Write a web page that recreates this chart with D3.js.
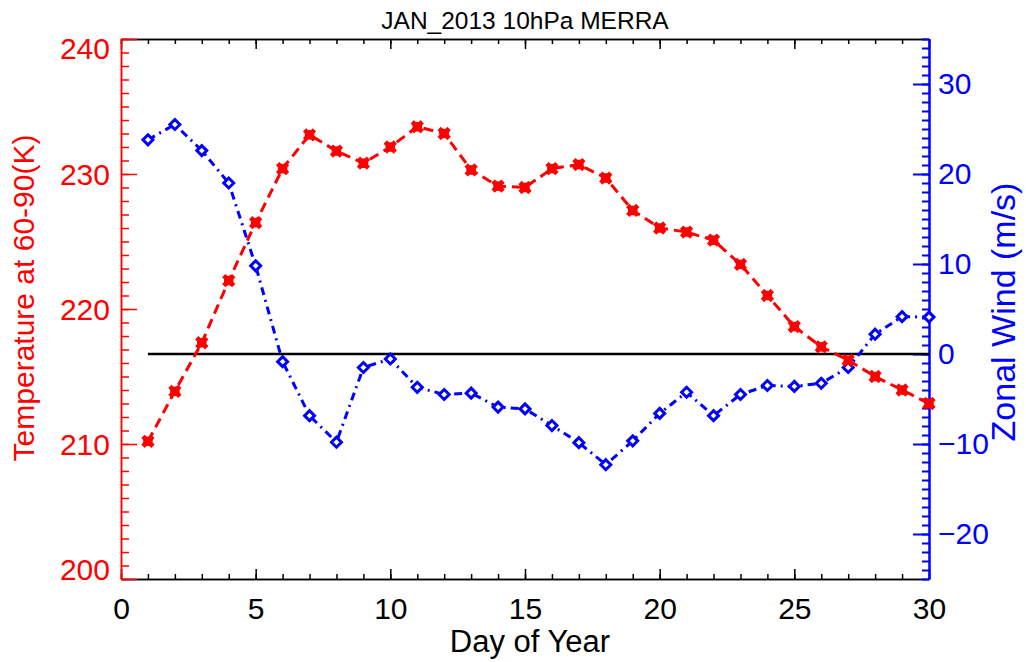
<!DOCTYPE html>
<html>
<head>
<meta charset="utf-8">
<script src="https://cdn.jsdelivr.net/npm/d3@7"></script>
<style>
  html, body { margin: 0; padding: 0; background: #fff; }
  svg { display: block; font-family: "Liberation Sans", Arial, sans-serif; }
</style>
</head>
<body>
<svg id="chart" width="1026" height="662"></svg>
<script>
// ---- data ----
const days = [1,2,3,4,5,6,7,8,9,10,11,12,13,14,15,16,17,18,19,20,21,22,23,24,25,26,27,28,29,30];
const temperature = [210.2,213.9,217.5,222.1,226.4,230.4,232.9,231.7,230.8,232.0,233.5,233.0,230.3,229.1,229.0,230.4,230.7,229.7,227.3,226.0,225.7,225.1,223.3,221.0,218.7,217.2,216.2,215.0,214.0,213.0];
const zonalWind = [23.8,25.5,22.6,19.0,9.8,-0.85,-6.85,-9.8,-1.5,-0.55,-3.7,-4.5,-4.35,-5.9,-6.1,-7.95,-9.85,-12.3,-9.65,-6.6,-4.25,-6.85,-4.5,-3.5,-3.6,-3.25,-1.5,2.2,4.15,4.1];
const xMajorTicks = [0,5,10,15,20,25,30];
const tMajorTicks = [200,210,220,230,240];
const wMajorTicks = [-20,-10,0,10,20,30];
const titleText = "JAN_2013 10hPa MERRA";
const xLabel = "Day of Year";
const tLabel = "Temperature at 60-90(K)";
const wLabel = "Zonal Wind (m/s)";

// ---- layout ----
const L = 121, R = 929, T = 39, B = 579;
const svg = d3.select("#chart");
const x = d3.scaleLinear().domain([0,30]).range([L,R]);
const yT = d3.scaleLinear().domain([200,240]).range([B,T]);
const yW = d3.scaleLinear().domain([-25,35]).range([B,T]);

function styleAxis(g, color, width) {
  g.select(".domain").attr("stroke", color).attr("stroke-width", width);
  g.selectAll(".tick line").attr("stroke", color).attr("stroke-width", width);
}

// bottom axis (ticks pointing up)
const gB1 = svg.append("g").attr("transform",`translate(0,${B})`)
  .call(d3.axisTop(x).tickValues(d3.range(0,31,1)).tickSize(5).tickFormat("").tickSizeOuter(0));
styleAxis(gB1, "#000", 1.5);
const gB2 = svg.append("g").attr("transform",`translate(0,${B})`)
  .call(d3.axisTop(x).tickValues(xMajorTicks).tickSize(10).tickFormat("").tickSizeOuter(0));
styleAxis(gB2, "#000", 1.5);
// bottom labels
const gBL = svg.append("g").attr("transform",`translate(0,${B})`)
  .call(d3.axisBottom(x).tickValues(xMajorTicks).tickSize(0).tickPadding(19).tickFormat(d3.format("d")));
gBL.select(".domain").remove();
gBL.selectAll("text").attr("font-size", 30).attr("fill", "#000").attr("font-family", "Liberation Sans, Arial, sans-serif");

// top axis (ticks pointing down)
const gT1 = svg.append("g").attr("transform",`translate(0,${T})`)
  .call(d3.axisBottom(x).tickValues(d3.range(0,31,1)).tickSize(5).tickFormat("").tickSizeOuter(0));
styleAxis(gT1, "#000", 1.5);
const gT2 = svg.append("g").attr("transform",`translate(0,${T})`)
  .call(d3.axisBottom(x).tickValues(xMajorTicks).tickSize(10).tickFormat("").tickSizeOuter(0));
styleAxis(gT2, "#000", 1.5);

// left axis (temperature, red)
const red = "#ff0000", blue = "#0000ff";
const gL1 = svg.append("g").attr("transform",`translate(${L},0)`)
  .call(d3.axisRight(yT).tickValues(d3.range(200,241,1)).tickSize(8).tickFormat("").tickSizeOuter(0));
styleAxis(gL1, red, 1.5);
const gL2 = svg.append("g").attr("transform",`translate(${L},0)`)
  .call(d3.axisRight(yT).tickValues(tMajorTicks).tickSize(16).tickFormat("").tickSizeOuter(0));
styleAxis(gL2, red, 1.5);
const gLL = svg.append("g").attr("transform",`translate(${L},0)`)
  .call(d3.axisLeft(yT).tickValues(tMajorTicks).tickSize(0).tickPadding(11).tickFormat(d3.format("d")));
gLL.select(".domain").remove();
gLL.selectAll("text").attr("font-size", 30).attr("fill", red).attr("font-family", "Liberation Sans, Arial, sans-serif")
  .attr("dy", d => d === 240 ? "0.64em" : (d === 200 ? "0.0em" : "0.35em"));

// right axis (wind, blue)
const gR1 = svg.append("g").attr("transform",`translate(${R},0)`)
  .call(d3.axisLeft(yW).tickValues(d3.range(-25,36,1)).tickSize(7).tickFormat("").tickSizeOuter(0));
styleAxis(gR1, blue, 2);
const gR2 = svg.append("g").attr("transform",`translate(${R},0)`)
  .call(d3.axisLeft(yW).tickValues(wMajorTicks).tickSize(16).tickFormat("").tickSizeOuter(0));
styleAxis(gR2, blue, 2);
const gRL = svg.append("g").attr("transform",`translate(${R},0)`)
  .call(d3.axisRight(yW).tickValues(wMajorTicks).tickSize(0).tickPadding(9).tickFormat(d3.format("d")));
gRL.select(".domain").remove();
gRL.selectAll("text").attr("font-size", 30).attr("fill", blue).attr("font-family", "Liberation Sans, Arial, sans-serif");

// zero wind line
svg.append("line")
  .attr("x1", x(days[0])).attr("x2", x(30))
  .attr("y1", yW(0)).attr("y2", yW(0))
  .attr("stroke", "#000").attr("stroke-width", 2.6);

// wind line (blue dash-dot)
const windPts = days.map((d,i) => [d, zonalWind[i]]);
svg.append("path")
  .datum(windPts)
  .attr("fill","none").attr("stroke", blue).attr("stroke-width", 3)
  .attr("stroke-dasharray", "8,5,2,5")
  .attr("d", d3.line().x(d => x(d[0])).y(d => yW(d[1])));

// temperature line (red dashed)
const tempPts = days.map((d,i) => [d, temperature[i]]);
svg.append("path")
  .datum(tempPts)
  .attr("fill","none").attr("stroke", red).attr("stroke-width", 3)
  .attr("stroke-dasharray", "10,6")
  .attr("d", d3.line().x(d => x(d[0])).y(d => yT(d[1])));

// markers
const diamondType = { draw(ctx, size) { const r = Math.sqrt(size)/2; ctx.moveTo(0,-r); ctx.lineTo(r,0); ctx.lineTo(0,r); ctx.lineTo(-r,0); ctx.closePath(); } };
svg.append("g").selectAll("path").data(windPts).join("path")
  .attr("transform", d => `translate(${x(d[0])},${yW(d[1])})`)
  .attr("d", d3.symbol().type(diamondType).size(100))
  .attr("fill", "#fff").attr("stroke", blue).attr("stroke-width", 3);

const gTm = svg.append("g");
gTm.selectAll("path.sq").data(tempPts).join("path").attr("class","sq")
  .attr("transform", d => `translate(${x(d[0])},${yT(d[1])})`)
  .attr("d", d3.symbol().type(d3.symbolSquare).size(90))
  .attr("fill", red);
gTm.selectAll("path.xx").data(tempPts).join("path").attr("class","xx")
  .attr("transform", d => `translate(${x(d[0])},${yT(d[1])}) rotate(45)`)
  .attr("d", d3.symbol().type(d3.symbolCross).size(110))
  .attr("fill", red);

// title and axis titles
svg.append("text").attr("x", (L+R)/2).attr("y", 29).attr("text-anchor","middle")
  .attr("font-size", 24.5).attr("fill","#000").text(titleText);
svg.append("text").attr("x", 530).attr("y", 652).attr("text-anchor","middle")
  .attr("font-size", 31).attr("fill","#000").text(xLabel);
svg.append("text").attr("transform", `translate(34,298) rotate(-90)`).attr("text-anchor","middle")
  .attr("font-size", 30).attr("fill", red).text(tLabel);
svg.append("text").attr("transform", `translate(1015,312) rotate(-90)`).attr("text-anchor","middle")
  .attr("font-size", 34).attr("fill", blue).text(wLabel);
</script>
</body>
</html>
